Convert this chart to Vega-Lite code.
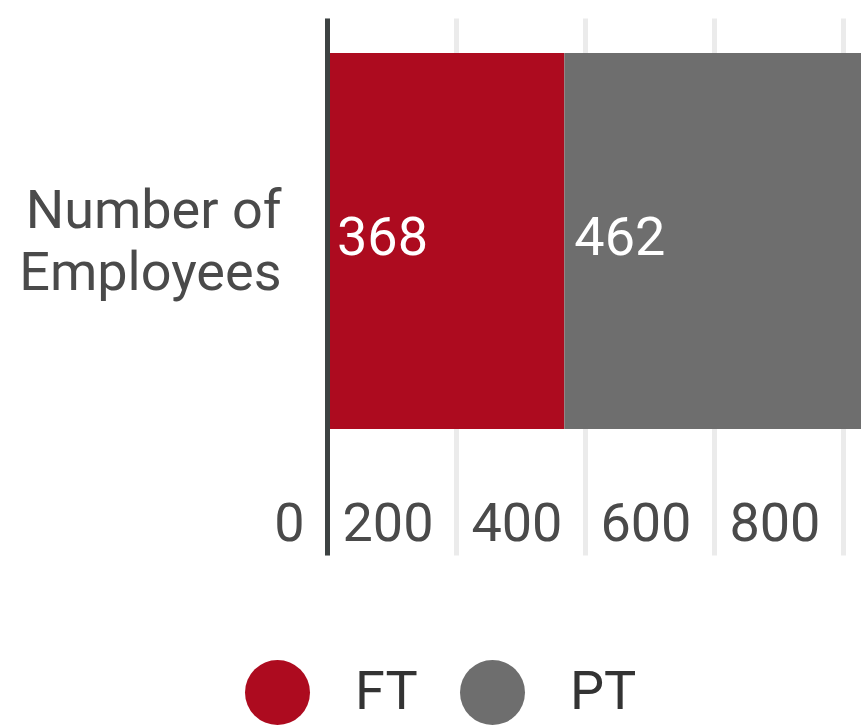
{
  "$schema": "https://vega.github.io/schema/vega-lite/v6.json",
  "autosize": "none",
  "padding": {"left": 327, "top": 18, "right": 0, "bottom": 172},
  "width": 534,
  "height": 537,
  "config": {"font": "Roboto", "view": {"stroke": null}},
  "data": {
    "values": [
      {"cat": "Number of Employees", "type": "FT", "count": 368},
      {"cat": "Number of Employees", "type": "PT", "count": 462}
    ]
  },
  "transform": [
    {"stack": "count", "groupby": ["cat"], "sort": [{"field": "type", "order": "ascending"}], "as": ["x0", "x1"]}
  ],
  "encoding": {
    "y": {
      "field": "cat",
      "type": "nominal",
      "scale": {"paddingOuter": 0.214, "paddingInner": 0, "align": 0.217},
      "axis": {
        "title": null,
        "labelExpr": "['Number of', 'Employees']",
        "labelFontSize": 54,
        "labelLineHeight": 62,
        "labelColor": "#4a4a4a",
        "labelPadding": 46,
        "labelLimit": 400,
        "labelOffset": -29,
        "ticks": false,
        "domain": true,
        "domainColor": "#3d4242",
        "domainWidth": 5,
        "zindex": 1
      }
    }
  },
  "layer": [
    {
      "mark": {"type": "bar", "clip": true},
      "encoding": {
        "x": {
          "field": "x0",
          "type": "quantitative",
          "scale": {"domain": [0, 828], "nice": false},
          "axis": {
            "title": null,
            "values": [0, 200, 400, 600, 800],
            "grid": true,
            "gridColor": "#ebebeb",
            "gridWidth": 5,
            "domain": false,
            "ticks": false,
            "labelFontSize": 54,
            "labelColor": "#4a4a4a",
            "labelAlign": "right",
            "labelBaseline": "alphabetic",
            "labelOffset": -23,
            "labelPadding": -15,
            "labelFlush": false,
            "labelOverlap": false
          }
        },
        "x2": {"field": "x1"},
        "color": {
          "field": "type",
          "type": "nominal",
          "scale": {"domain": ["FT", "PT"], "range": ["#ad0b1f", "#6e6e6e"]},
          "legend": {
            "title": null,
            "orient": "none",
            "direction": "horizontal",
            "legendX": -82,
            "legendY": 642,
            "symbolType": "circle",
            "symbolSize": 4225,
            "symbolStrokeWidth": 0,
            "symbolOpacity": 1,
            "labelFontSize": 54,
            "labelColor": "#333333",
            "labelOffset": 45,
            "columnPadding": 42,
            "padding": 0
          }
        }
      }
    },
    {
      "mark": {"type": "text", "align": "left", "baseline": "middle", "dx": 10, "dy": -2, "fontSize": 54, "color": "#ffffff"},
      "encoding": {
        "x": {"field": "x0", "type": "quantitative"},
        "text": {"field": "count", "type": "quantitative"}
      }
    }
  ]
}
